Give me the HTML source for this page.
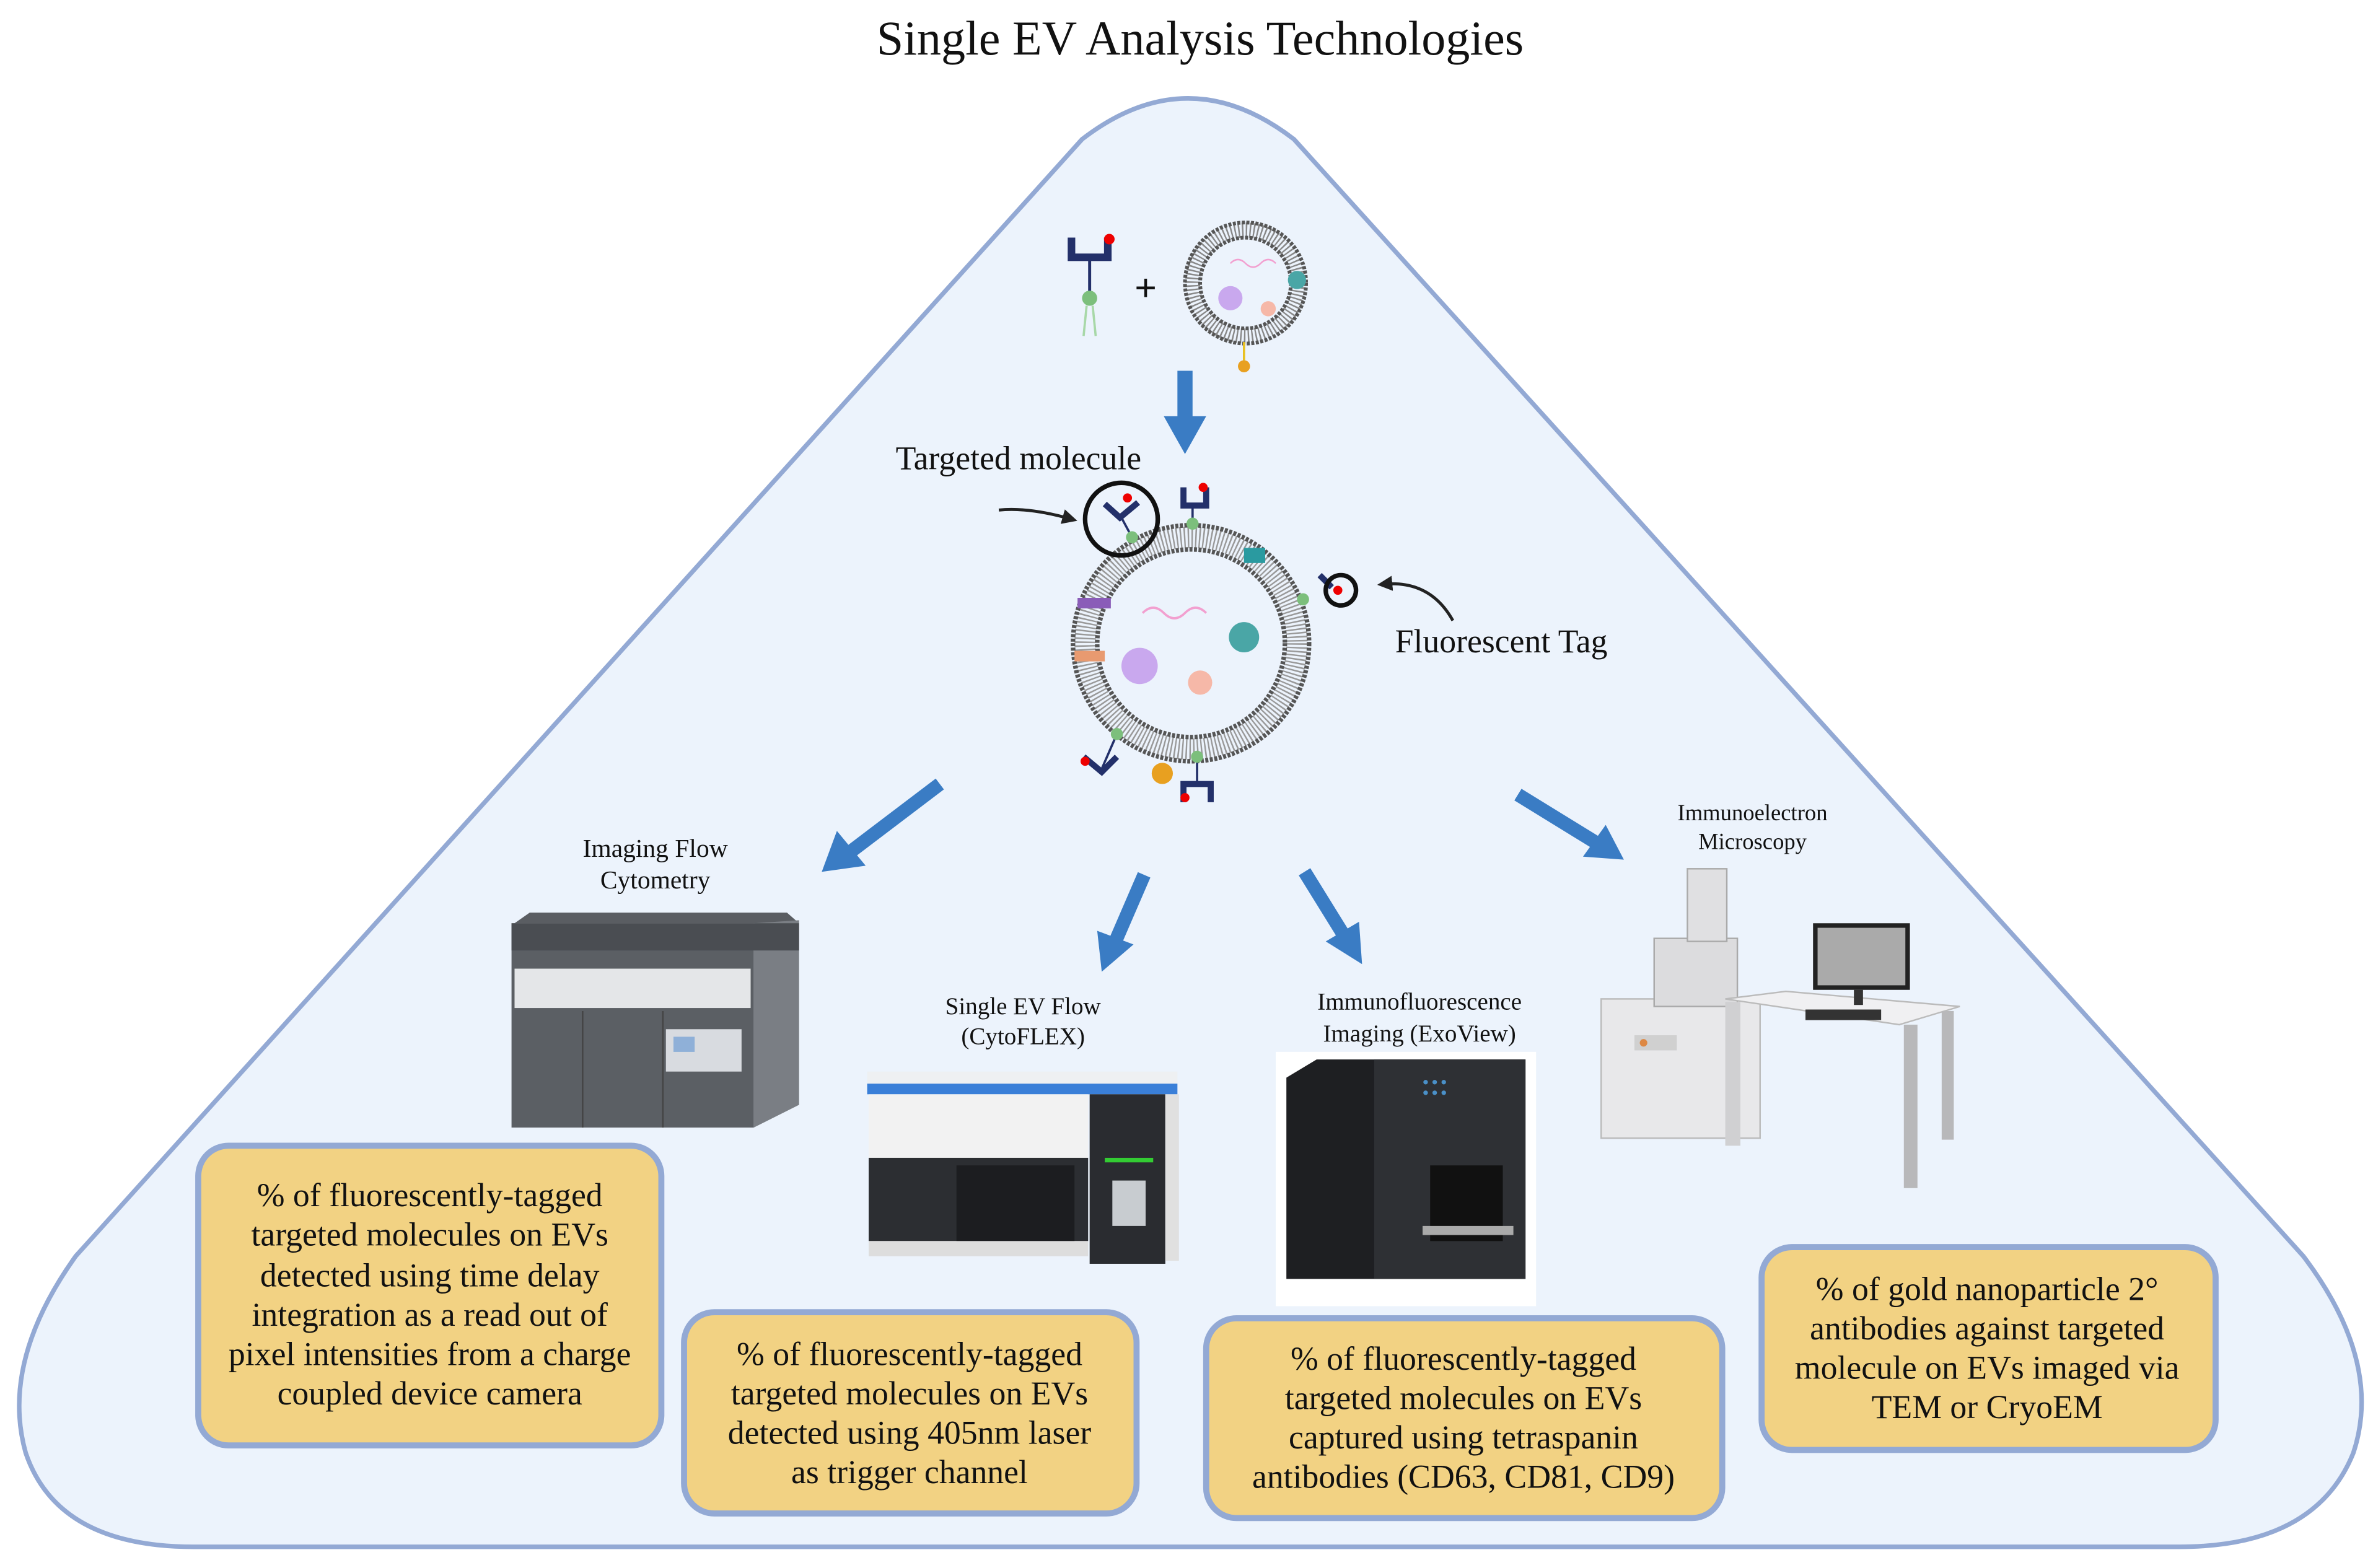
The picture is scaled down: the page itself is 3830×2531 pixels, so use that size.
<!DOCTYPE html>
<html><head><meta charset="utf-8"><style>
html,body{margin:0;padding:0;background:#fff;width:3830px;height:2531px;overflow:hidden}
svg{display:block}
text{font-family:"Liberation Serif",serif;fill:#111}
</style></head><body>
<svg width="3830" height="2531" viewBox="0 0 1568 1036" preserveAspectRatio="none" xmlns="http://www.w3.org/2000/svg">
<defs>
<marker id="ah" markerWidth="10" markerHeight="10" refX="6" refY="5" orient="auto" markerUnits="userSpaceOnUse"><path d="M0,0 L10,5 L0,10 Z" fill="#222"/></marker>
</defs>
<rect width="1568" height="1036" fill="#fff"/>
<text x="793" y="36" font-size="32" text-anchor="middle">Single EV Analysis Technologies</text>
<path d="M715,92 Q785,38 855,92 L1522,830 Q1575,900 1555,960 Q1530,1022 1440,1022 L128,1022 Q38,1022 17,960 Q0,900 50,830 Z" fill="#ecf3fc" stroke="#93a9d4" stroke-width="3"/>

<!-- arrows -->
<g fill="#3a7cc4">
<path d="M778,245 L788,245 L788,275 L797,275 L783,300 L769,275 L778,275 Z"/>
</g>
<g stroke="#3a7cc4" stroke-width="9" fill="none">
<line x1="621" y1="518" x2="563" y2="562"/>
<line x1="756" y1="578" x2="737" y2="622"/>
<line x1="862" y1="576" x2="888" y2="618"/>
<line x1="1003" y1="525" x2="1055" y2="557"/>
</g>
<g fill="#3a7cc4">
<path d="M543,576 L553,549 L572,572 Z"/>
<path d="M728,642 L725,615 L749,624 Z"/>
<path d="M900,637 L876,622 L898,609 Z"/>
<path d="M1073,568 L1046,566 L1061,545 Z"/>
</g>

<!-- small EV -->
<circle cx="823" cy="187" r="35" fill="none" stroke="#888" stroke-width="10" stroke-dasharray="1 1.5"/>
<circle cx="823" cy="187" r="40" fill="none" stroke="#555" stroke-width="2.5" stroke-dasharray="2 1"/>
<circle cx="823" cy="187" r="30" fill="none" stroke="#555" stroke-width="2.5" stroke-dasharray="2 1"/>
<circle cx="813" cy="197" r="8" fill="#c9a8ee"/><circle cx="838" cy="204" r="5" fill="#f6b8a8"/><circle cx="857" cy="185" r="6" fill="#4aa6a6"/>
<path d="M813,174 q5,-5 10,0 t10,0 t10,0" stroke="#f2a0d0" fill="none"/>
<line x1="822" y1="226" x2="822" y2="238" stroke="#e8c020" stroke-width="1.5"/>
<circle cx="822" cy="242" r="4" fill="#e8a020"/>
<!-- antibody small -->
<path d="M708,157 L708,170 L732,170 L732,157" stroke="#23306a" stroke-width="5" fill="none"/>
<circle cx="733" cy="158" r="3.5" fill="#e00"/>
<line x1="720" y1="170" x2="720" y2="195" stroke="#23306a" stroke-width="2"/>
<circle cx="720" cy="197" r="5" fill="#7cbf7c"/>
<path d="M718,202 L716,222 M722,202 L724,222" stroke="#a8d8a8" stroke-width="1.5"/>
<text x="757" y="199" font-size="26" font-weight="bold" text-anchor="middle" font-family="Liberation Sans">+</text>

<!-- big EV -->
<circle cx="787" cy="425" r="70" fill="none" stroke="#999" stroke-width="14" stroke-dasharray="1 1.5"/>
<circle cx="787" cy="425" r="78" fill="none" stroke="#555" stroke-width="3" stroke-dasharray="2 1"/>
<circle cx="787" cy="425" r="62" fill="none" stroke="#555" stroke-width="3" stroke-dasharray="2 1"/>
<circle cx="753" cy="440" r="12" fill="#c9a8ee"/><circle cx="793" cy="451" r="8" fill="#f6b8a8"/><circle cx="822" cy="421" r="10" fill="#4aa6a6"/>
<path d="M755,405 q7,-7 14,0 t14,0 t14,0" stroke="#f2a0d0" fill="none" stroke-width="1.5"/>
<rect x="712" y="395" width="22" height="7" fill="#8a5cb8"/><rect x="710" y="430" width="20" height="7" fill="#e89a70"/>
<rect x="822" y="362" width="14" height="10" fill="#2a9aa0"/>
<circle cx="768" cy="511" r="7" fill="#e8a020"/>
<g stroke="#23306a" stroke-width="4" fill="none">
<path d="M782,322 L782,334 L797,334 L797,322"/>
<path d="M730,333 L740,342 L752,332"/>
<path d="M716,500 L728,510 L738,500"/>
<path d="M782,530 L782,518 L800,518 L800,530"/>
<path d="M872,380 L880,388"/>
</g>
<g stroke="#23306a" stroke-width="1.5"><line x1="788" y1="334" x2="788" y2="346"/><line x1="741" y1="342" x2="748" y2="355"/><line x1="791" y1="500" x2="791" y2="518"/><line x1="728" y1="508" x2="738" y2="485"/></g>
<g fill="#7cbf7c"><circle cx="788" cy="346" r="4"/><circle cx="748" cy="355" r="4"/><circle cx="861" cy="396" r="4"/><circle cx="738" cy="485" r="4"/><circle cx="791" cy="500" r="4"/></g>
<g fill="#e00"><circle cx="795" cy="322" r="3"/><circle cx="745" cy="329" r="3"/><circle cx="717" cy="503" r="3"/><circle cx="783" cy="527" r="3"/><circle cx="884" cy="390" r="3"/></g>
<circle cx="741" cy="343" r="24" fill="none" stroke="#111" stroke-width="3"/>
<circle cx="886" cy="390" r="10" fill="none" stroke="#111" stroke-width="3"/>
<path d="M660,337 Q680,335 708,343" stroke="#222" stroke-width="2" fill="none" marker-end="url(#ah)"/>
<path d="M960,410 Q945,383 914,386" stroke="#222" stroke-width="2" fill="none" marker-end="url(#ah)"/>
<text x="673" y="310" font-size="22" text-anchor="middle">Targeted molecule</text>
<text x="992" y="431" font-size="22" text-anchor="middle">Fluorescent Tag</text>

<!-- labels -->
<g font-size="17" text-anchor="middle">
<text x="433" y="566">Imaging Flow</text><text x="433" y="587">Cytometry</text>
<text x="676" y="670" font-size="16">Single EV Flow</text><text x="676" y="690" font-size="16">(CytoFLEX)</text>
<text x="938" y="667" font-size="16">Immunofluorescence</text><text x="938" y="688" font-size="16">Imaging (ExoView)</text>
<text x="1158" y="542" font-size="15">Immunoelectron</text><text x="1158" y="561" font-size="15">Microscopy</text>
</g>

<!-- Imaging flow machine -->
<path d="M340,610 L350,603 L520,603 L528,610 Z" fill="#5a5d62"/>
<rect x="338" y="610" width="160" height="135" fill="#5b5f64"/>
<path d="M498,610 L528,608 L528,730 L498,745 Z" fill="#7a7e84"/>
<rect x="338" y="610" width="190" height="18" fill="#4a4d52"/>
<rect x="340" y="640" width="156" height="26" fill="#e4e6e8"/>
<rect x="440" y="680" width="50" height="28" fill="#d8dbe0"/>
<rect x="445" y="685" width="14" height="10" fill="#8fb0d8"/>
<line x1="385" y1="668" x2="385" y2="745" stroke="#444"/><line x1="438" y1="668" x2="438" y2="745" stroke="#444"/>

<!-- CytoFLEX -->
<rect x="573" y="708" width="205" height="12" fill="#eef0f2"/>
<rect x="573" y="716" width="205" height="7" fill="#3a7fd8"/>
<rect x="574" y="723" width="145" height="105" fill="#f2f2f2"/>
<rect x="574" y="765" width="145" height="55" fill="#2c2e32"/>
<rect x="632" y="770" width="78" height="50" fill="#1c1d20"/>
<rect x="720" y="723" width="50" height="112" fill="#2a2c30"/>
<rect x="770" y="723" width="9" height="110" fill="#e0e0e0"/>
<rect x="730" y="765" width="32" height="3" fill="#3c3"/>
<rect x="735" y="780" width="22" height="30" fill="#c8ccd0"/>
<rect x="574" y="820" width="145" height="10" fill="#ddd"/>

<!-- ExoView -->
<rect x="843" y="695" width="172" height="168" fill="#fff"/>
<path d="M850,712 L870,700 L1008,700 L1008,845 L850,845 Z" fill="#1e1f22"/>
<rect x="908" y="700" width="100" height="145" fill="#2e3034"/>
<rect x="945" y="770" width="48" height="50" fill="#111"/>
<rect x="940" y="810" width="60" height="6" fill="#aaa"/>
<g fill="#4a90c8"><circle cx="942" cy="715" r="1.5"/><circle cx="948" cy="715" r="1.5"/><circle cx="954" cy="715" r="1.5"/><circle cx="942" cy="722" r="1.5"/><circle cx="948" cy="722" r="1.5"/><circle cx="954" cy="722" r="1.5"/></g>

<!-- EM -->
<rect x="1058" y="660" width="105" height="92" fill="#e8e8ea" stroke="#bbb"/>
<rect x="1093" y="620" width="55" height="45" fill="#dcdcde" stroke="#aaa"/>
<rect x="1115" y="574" width="26" height="48" fill="#e0e0e2" stroke="#aaa"/>
<path d="M1140,660 L1180,655 L1295,665 L1255,677 Z" fill="#f0f0f2" stroke="#bbb"/>
<rect x="1140" y="662" width="10" height="95" fill="#d0d0d2"/>
<rect x="1258" y="677" width="9" height="108" fill="#b8b8ba"/>
<rect x="1283" y="668" width="8" height="85" fill="#b8b8ba"/>
<rect x="1198" y="610" width="64" height="44" fill="#222"/>
<rect x="1201" y="613" width="58" height="38" fill="#aaa"/>
<rect x="1193" y="667" width="50" height="7" fill="#333"/>
<rect x="1225" y="654" width="6" height="10" fill="#333"/>
<rect x="1080" y="684" width="28" height="10" fill="#d0d0d0"/>
<circle cx="1086" cy="689" r="2.5" fill="#d84"/>

<!-- boxes -->
<g fill="#f2d283" stroke="#93a9d4" stroke-width="4">
<rect x="131" y="757" width="306" height="198" rx="20"/>
<rect x="452" y="867" width="299" height="133" rx="20"/>
<rect x="797" y="871" width="341" height="132" rx="20"/>
<rect x="1164" y="824" width="300" height="134" rx="20"/>
</g>
<g font-size="22" text-anchor="middle">
<text x="284" y="797">% of fluorescently-tagged</text>
<text x="284" y="823">targeted molecules on EVs</text>
<text x="284" y="850">detected using time delay</text>
<text x="284" y="876">integration as a read out of</text>
<text x="284" y="902">pixel intensities from a charge</text>
<text x="284" y="928">coupled device camera</text>
<text x="601" y="902">% of fluorescently-tagged</text>
<text x="601" y="928">targeted molecules on EVs</text>
<text x="601" y="954">detected using 405nm laser</text>
<text x="601" y="980">as trigger channel</text>
<text x="967" y="905">% of fluorescently-tagged</text>
<text x="967" y="931">targeted molecules on EVs</text>
<text x="967" y="957">captured using tetraspanin</text>
<text x="967" y="983">antibodies (CD63, CD81, CD9)</text>
<text x="1313" y="859">% of gold nanoparticle 2°</text>
<text x="1313" y="885">antibodies against targeted</text>
<text x="1313" y="911">molecule on EVs imaged via</text>
<text x="1313" y="937">TEM or CryoEM</text>
</g>
</svg>
</body></html>
